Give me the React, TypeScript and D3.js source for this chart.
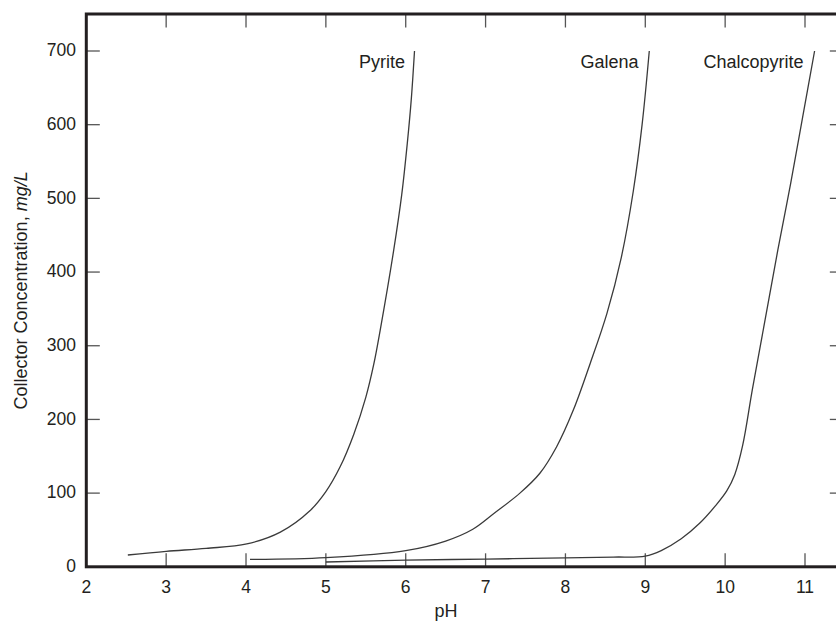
import React from "react";
import * as d3 from "d3";

const xTicks = [2, 3, 4, 5, 6, 7, 8, 9, 10, 11];
const yTicks = [0, 100, 200, 300, 400, 500, 600, 700];

const pyritePH = [2.52, 3.0, 3.5, 4.01, 4.43, 4.8, 5.0, 5.18, 5.35, 5.5, 5.6, 5.68, 5.85, 5.95, 6.02, 6.07, 6.11];
const pyriteConc = [16, 21, 25, 31, 47, 76, 102, 136, 180, 230, 275, 321, 430, 505, 575, 635, 700];

const galenaPH = [4.05, 5.0, 6.0, 6.5, 6.84, 7.1, 7.43, 7.68, 7.89, 8.1, 8.31, 8.52, 8.7, 8.85, 8.96, 9.05];
const galenaConc = [10, 12.5, 22, 35, 51, 72, 100, 127, 163, 213, 276, 344, 420, 510, 600, 700];

const chalcoPH = [5.0, 6.0, 7.0, 8.0, 8.6, 9.0, 9.2, 9.45, 9.68, 9.88, 10.02, 10.12, 10.22, 10.34, 10.5, 10.66, 10.82, 10.97, 11.12];
const chalcoConc = [6.5, 9, 10.5, 12, 13.2, 14.5, 22, 38, 59, 83, 103, 125, 165, 240, 335, 430, 520, 610, 700];

const seriesNames = ["Pyrite", "Galena", "Chalcopyrite"];

const W = 836;
const H = 627;

export default function App() {
  const x = d3.scaleLinear().domain([2, 11]).range([86.3, 805]);
  const y = d3.scaleLinear().domain([0, 700]).range([566.8, 51]);
  const xRight = 11.48;
  const yTop = y.invert(14);

  const series = [
    { name: seriesNames[0], ph: pyritePH, c: pyriteConc },
    { name: seriesNames[1], ph: galenaPH, c: galenaConc },
    { name: seriesNames[2], ph: chalcoPH, c: chalcoConc },
  ];

  const line = d3
    .line<[number, number]>()
    .x((d) => x(d[0]))
    .y((d) => y(d[1]))
    .curve(d3.curveCatmullRom.alpha(0.5));

  const ink = "#231f20";
  const font = "'Liberation Sans', Arial, Helvetica, sans-serif";
  const tickLen = 13.5;

  const labelEnds = [405, 638.5, 803.5];

  return (
    <svg
      width={W}
      height={H}
      style={{ position: "absolute", left: 0, top: 0, background: "#fff" }}
      fontFamily={font}
    >
      {/* inward ticks */}
      {xTicks.filter((t) => t > 2).map((t) => (
        <g key={"xt" + t} stroke="#555" strokeWidth={1.3}>
          <line x1={x(t)} x2={x(t)} y1={y(0)} y2={y(0) - tickLen} />
          <line x1={x(t)} x2={x(t)} y1={y(yTop)} y2={y(yTop) + tickLen} />
        </g>
      ))}
      {yTicks.filter((t) => t > 0).map((t) => (
        <g key={"yt" + t} stroke="#555" strokeWidth={1.3}>
          <line x1={x(2)} x2={x(2) + tickLen} y1={y(t)} y2={y(t)} />
          <line x1={x(xRight)} x2={x(xRight) - tickLen} y1={y(t)} y2={y(t)} />
        </g>
      ))}

      {/* curves */}
      {series.map((s) => (
        <path
          key={s.name}
          d={line(s.ph.map((p, i) => [p, s.c[i]] as [number, number])) || ""}
          fill="none"
          stroke="#3a3a3a"
          strokeWidth={1.3}
        />
      ))}

      {/* frame */}
      <rect
        x={x(2)}
        y={y(yTop)}
        width={x(xRight) - x(2)}
        height={y(0) - y(yTop)}
        fill="none"
        stroke={ink}
        strokeWidth={3}
      />

      {/* tick labels */}
      {xTicks.map((t) => (
        <text
          key={"xl" + t}
          x={x(t)}
          y={593}
          textAnchor="middle"
          fontSize={17.5}
          fill={ink}
        >
          {t}
        </text>
      ))}
      {yTicks.map((t) => (
        <text
          key={"yl" + t}
          x={76}
          y={y(t)}
          dy="0.3em"
          textAnchor="end"
          fontSize={17.5}
          fill={ink}
        >
          {t}
        </text>
      ))}

      {/* curve labels */}
      {series.map((s, i) => (
        <text
          key={"cl" + s.name}
          x={labelEnds[i]}
          y={68.3}
          textAnchor="end"
          fontSize={18}
          fill={ink}
        >
          {s.name}
        </text>
      ))}

      {/* axis titles */}
      <text x={446} y={617} textAnchor="middle" fontSize={18} fill={ink}>
        pH
      </text>
      <text
        transform={`translate(27, ${(y(0) + y(yTop)) / 2}) rotate(-90)`}
        textAnchor="middle"
        fontSize={18}
        fill={ink}
      >
        Collector Concentration, <tspan fontStyle="italic">mg/L</tspan>
      </text>
    </svg>
  );
}
